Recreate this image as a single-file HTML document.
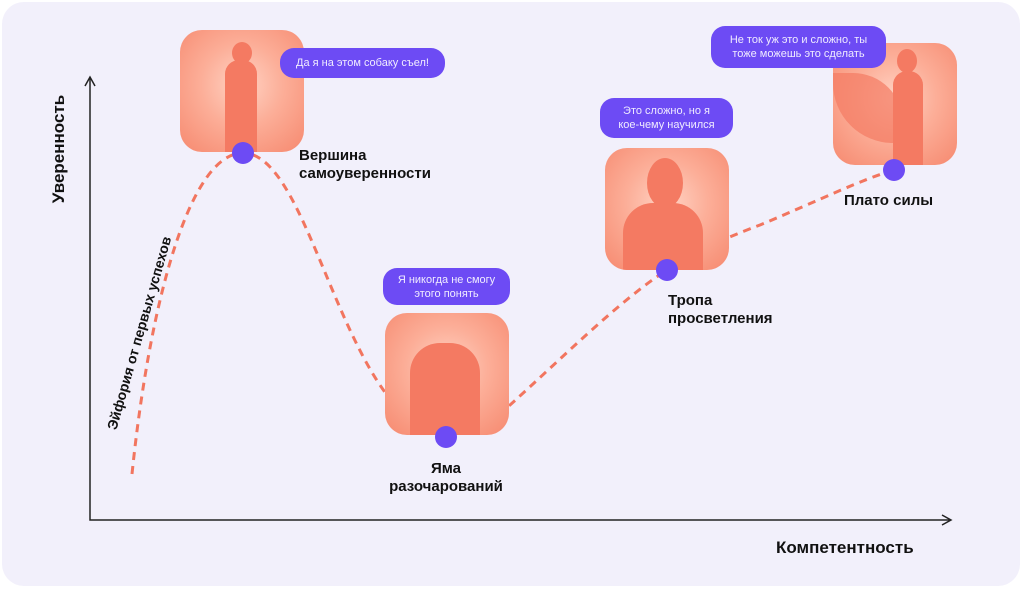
<!DOCTYPE html>
<html><head><meta charset="utf-8"><style>
body{margin:0;width:1024px;height:590px;background:#fff;font-family:"Liberation Sans",sans-serif;overflow:hidden}
.wrap{position:absolute;left:2px;top:2px;width:1018px;height:584px;border-radius:22px;background:#f2f0fb}
.card{position:absolute;width:124px;height:122px;border-radius:22px;background:radial-gradient(circle at 50% 45%,#ffd3c4 0%,#fcae98 45%,#f6896f 100%);overflow:hidden}
.fig{position:absolute;background:#f47a62;}
.bub{position:absolute;background:#6d4bf4;color:#f0ecff;font-size:11px;border-radius:14px;text-align:center;line-height:14px;display:flex;align-items:center;justify-content:center}
.lbl{position:absolute;font-weight:bold;font-size:15px;color:#111;line-height:18px}
.dot{position:absolute;width:22px;height:22px;border-radius:50%;background:#6d4bf4;margin:-11px 0 0 -11px}
</style></head><body><div class="wrap"></div>
<svg style="position:absolute;left:0;top:0" width="1024" height="590">
<path d="M90 78 V520 H950" fill="none" stroke="#222" stroke-width="1.5"/>
<path d="M85 86 L90 77 L95 86 M942 515 L951 520 L942 525" fill="none" stroke="#222" stroke-width="1.5"/>
<path d="M132 474 C150 300 190 153 243 153 C300 153 330 330 395 405 C420 440 470 440 510 405 C560 360 620 300 667 270 C700 250 720 240 760 225 C820 200 860 180 894 170" fill="none" stroke="#f2755f" stroke-width="3" stroke-dasharray="8 6"/>
</svg>
<div class="card" style="left:180px;top:30px"><div class="fig" style="left:45px;top:30px;width:32px;height:95px;border-radius:14px 14px 0 0"></div><div class="fig" style="left:52px;top:12px;width:20px;height:22px;border-radius:50%"></div></div>
<div class="card" style="left:385px;top:313px"><div class="fig" style="left:25px;top:30px;width:70px;height:95px;border-radius:30px 30px 0 0"></div></div>
<div class="card" style="left:605px;top:148px"><div class="fig" style="left:18px;top:55px;width:80px;height:70px;border-radius:30px 30px 0 0"></div><div class="fig" style="left:42px;top:10px;width:36px;height:50px;border-radius:50%"></div></div>
<div class="card" style="left:833px;top:43px"><div class="fig" style="left:0px;top:30px;width:70px;height:70px;border-radius:0 50px 0 60px;opacity:.7"></div><div class="fig" style="left:60px;top:28px;width:30px;height:95px;border-radius:14px 14px 0 0"></div><div class="fig" style="left:64px;top:6px;width:20px;height:24px;border-radius:50%"></div></div>
<div class="dot" style="left:243px;top:153px"></div>
<div class="dot" style="left:446px;top:437px"></div>
<div class="dot" style="left:667px;top:270px"></div>
<div class="dot" style="left:894px;top:170px"></div>
<div class="bub" style="left:280px;top:48px;width:165px;height:30px">Да я на этом собаку съел!</div>
<div class="bub" style="left:383px;top:268px;width:127px;height:37px">Я никогда не смогу<br>этого понять</div>
<div class="bub" style="left:600px;top:98px;width:133px;height:40px">Это сложно, но я<br>кое-чему научился</div>
<div class="bub" style="left:711px;top:26px;width:175px;height:42px">Не ток уж это и сложно, ты<br>тоже можешь это сделать</div>
<div class="lbl" style="left:299px;top:147px">Вершина<br>самоуверенности</div>
<div class="lbl" style="left:380px;top:460px;width:132px;text-align:center">Яма<br>разочарований</div>
<div class="lbl" style="left:668px;top:292px">Тропа<br>просветления</div>
<div class="lbl" style="left:844px;top:192px">Плато силы</div>
<div class="lbl" style="left:776px;top:539px;font-size:17px">Компетентность</div>
<div class="lbl" style="left:4px;top:140px;font-size:17px;transform:rotate(-90deg);transform-origin:center;width:110px;text-align:center">Уверенность</div>
<div style="position:absolute;left:9px;top:324px;width:260px;font-size:14px;font-weight:bold;color:#111;transform:rotate(-74deg);text-align:center;white-space:nowrap;line-height:18px">Эйфория от первых успехов</div>
</body></html>
